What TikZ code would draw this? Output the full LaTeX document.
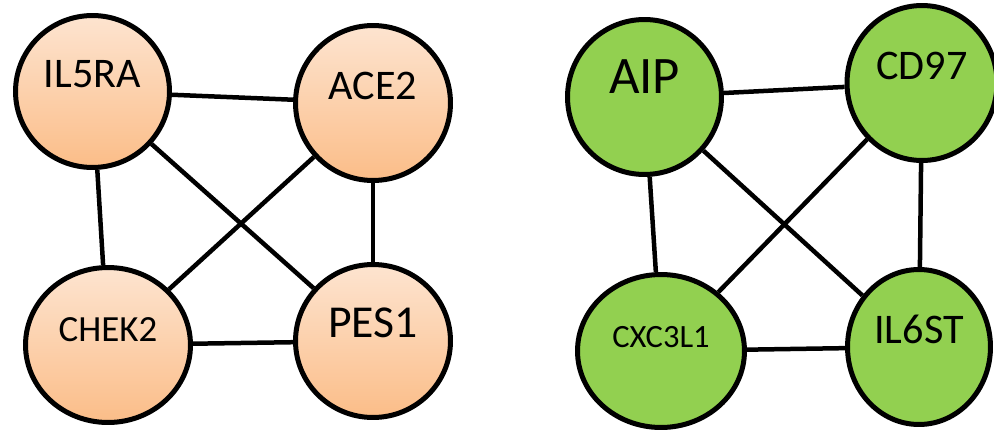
\documentclass[tikz,border=0pt]{standalone}
\usepackage{fontspec}
\setmainfont{Carlito}
\usepackage{tikz}
\usetikzlibrary{shapes.geometric}
\definecolor{peachtop}{HTML}{FDE4D0}
\definecolor{peachbottom}{HTML}{FBBD88}
\definecolor{genegreen}{HTML}{92D050}
\newcommand{\gsize}[1]{\fontsize{#1}{#1}\selectfont}
\tikzstyle{gene}=[ellipse, draw=black, line width=0.1cm, inner sep=0pt,
    text height=0pt, text depth=4pt]
\tikzstyle{gene_peach}=[gene, top color=peachtop, bottom color=peachbottom]
\tikzstyle{gene_green}=[gene, fill=genegreen]
\tikzstyle{link}=[line width=0.09cm]

\begin{document}
\begin{tikzpicture}[x=0.02cm, y=-0.02cm]
\useasboundingbox (0,0) rectangle (994,433);
\clip (0,0) rectangle (994,433);
% left graph
\node[gene_peach, minimum width=3.08cm, minimum height=3.04cm, font=\gsize{24}] (il5ra) at (92.5,91.5){IL5RA};
\node[gene_peach, minimum width=3.1cm, minimum height=3.1cm, font=\gsize{24}] (ace2) at (373,103){ACE2};
\node[gene_peach, minimum width=3.3cm, minimum height=3.1cm, font=\gsize{21}] (chek2) at (108,345){CHEK2};
\node[gene_peach, minimum width=3.1cm, minimum height=3.06cm, font=\gsize{26}] (pes1) at (373,341){PES1};
\draw[link](il5ra) -- (ace2);
\draw[link](il5ra) -- (chek2);
\draw[link](il5ra) -- (pes1);
\draw[link](ace2) -- (chek2);
\draw[link](ace2) -- (pes1);
\draw[link](chek2) -- (pes1);
% right graph
\node[gene_green, minimum width=3.08cm, minimum height=3.1cm, font=\gsize{30}] (aip) at (644.5,97){AIP};
\node[gene_green, minimum width=3.0cm, minimum height=3.1cm, font=\gsize{24}] (cd97) at (922,83){CD97};
\node[gene_green, minimum width=3.34cm, minimum height=3.06cm, font=\gsize{18.5}] (cxc3l1) at (661,351){CXC3L1};
\node[gene_green, minimum width=2.86cm, minimum height=3.1cm, font=\gsize{24}] (il6st) at (919,347){IL6ST};
\draw[link](aip) -- (cd97);
\draw[link](aip) -- (cxc3l1);
\draw[link](aip) -- (il6st);
\draw[link](cd97) -- (cxc3l1);
\draw[link](cd97) -- (il6st);
\draw[link](cxc3l1) -- (il6st);
\end{tikzpicture}
\end{document}
